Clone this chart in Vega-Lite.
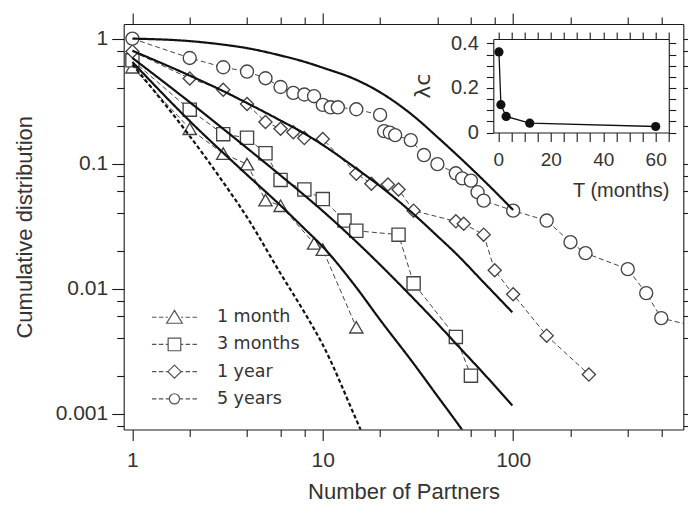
{
 "$schema": "https://vega.github.io/schema/vega-lite/v6.json",
 "width": 559.6,
 "height": 405.5,
 "autosize": {"type": "none"},
 "padding": {"left": 123.7, "top": 24, "right": 4.7, "bottom": 76.5},
 "background": "white",
 "config": {
  "view": {"stroke": null},
  "axis": {"grid": false, "domainColor": "#1a1a1a", "domainWidth": 1.1, "tickColor": "#1a1a1a", "tickWidth": 1.1, "labelColor": "#333333", "titleColor": "#333333", "labelFont": "Liberation Sans", "titleFont": "Liberation Sans", "titleFontWeight": "normal", "labelOverlap": false, "labelFlush": false, "labelBound": false}
 },
 "datasets": {
  "obs": [
   {"series": "1 month", "x": 1, "y": 0.59}, {"series": "1 month", "x": 2, "y": 0.19}, {"series": "1 month", "x": 3, "y": 0.12}, {"series": "1 month", "x": 4, "y": 0.099}, {"series": "1 month", "x": 5, "y": 0.051}, {"series": "1 month", "x": 6, "y": 0.046}, {"series": "1 month", "x": 9, "y": 0.023}, {"series": "1 month", "x": 10, "y": 0.0205}, {"series": "1 month", "x": 15, "y": 0.0049},
   {"series": "3 months", "x": 1, "y": 0.67}, {"series": "3 months", "x": 2, "y": 0.27}, {"series": "3 months", "x": 3, "y": 0.172}, {"series": "3 months", "x": 4, "y": 0.161}, {"series": "3 months", "x": 5, "y": 0.121}, {"series": "3 months", "x": 6, "y": 0.074}, {"series": "3 months", "x": 8, "y": 0.062}, {"series": "3 months", "x": 10, "y": 0.052}, {"series": "3 months", "x": 13, "y": 0.035}, {"series": "3 months", "x": 15, "y": 0.029}, {"series": "3 months", "x": 25, "y": 0.027}, {"series": "3 months", "x": 30, "y": 0.011}, {"series": "3 months", "x": 50, "y": 0.0041}, {"series": "3 months", "x": 60, "y": 0.00201},
   {"series": "1 year", "x": 1, "y": 0.79}, {"series": "1 year", "x": 2, "y": 0.48}, {"series": "1 year", "x": 3, "y": 0.39}, {"series": "1 year", "x": 4, "y": 0.3}, {"series": "1 year", "x": 5, "y": 0.215}, {"series": "1 year", "x": 6, "y": 0.19}, {"series": "1 year", "x": 7, "y": 0.178}, {"series": "1 year", "x": 8, "y": 0.16}, {"series": "1 year", "x": 10, "y": 0.157}, {"series": "1 year", "x": 15, "y": 0.083}, {"series": "1 year", "x": 18, "y": 0.069}, {"series": "1 year", "x": 22, "y": 0.068}, {"series": "1 year", "x": 25, "y": 0.062}, {"series": "1 year", "x": 30, "y": 0.042}, {"series": "1 year", "x": 50, "y": 0.0345}, {"series": "1 year", "x": 55, "y": 0.033}, {"series": "1 year", "x": 70, "y": 0.027}, {"series": "1 year", "x": 80, "y": 0.014}, {"series": "1 year", "x": 100, "y": 0.009}, {"series": "1 year", "x": 150, "y": 0.0042}, {"series": "1 year", "x": 250, "y": 0.00205},
   {"series": "5 years", "x": 1, "y": 1.0}, {"series": "5 years", "x": 2, "y": 0.7}, {"series": "5 years", "x": 3, "y": 0.59}, {"series": "5 years", "x": 4, "y": 0.545}, {"series": "5 years", "x": 5, "y": 0.482}, {"series": "5 years", "x": 6, "y": 0.41}, {"series": "5 years", "x": 7, "y": 0.368}, {"series": "5 years", "x": 8, "y": 0.357}, {"series": "5 years", "x": 9, "y": 0.346}, {"series": "5 years", "x": 10, "y": 0.295}, {"series": "5 years", "x": 11, "y": 0.282}, {"series": "5 years", "x": 12, "y": 0.282}, {"series": "5 years", "x": 15, "y": 0.272}, {"series": "5 years", "x": 20, "y": 0.245}, {"series": "5 years", "x": 21, "y": 0.182}, {"series": "5 years", "x": 22.5, "y": 0.177}, {"series": "5 years", "x": 24, "y": 0.169}, {"series": "5 years", "x": 29, "y": 0.154}, {"series": "5 years", "x": 34, "y": 0.117}, {"series": "5 years", "x": 40, "y": 0.099}, {"series": "5 years", "x": 50, "y": 0.0836}, {"series": "5 years", "x": 54, "y": 0.0762}, {"series": "5 years", "x": 60, "y": 0.073}, {"series": "5 years", "x": 65, "y": 0.059}, {"series": "5 years", "x": 70, "y": 0.0505}, {"series": "5 years", "x": 100, "y": 0.042}, {"series": "5 years", "x": 150, "y": 0.035}, {"series": "5 years", "x": 200, "y": 0.0235}, {"series": "5 years", "x": 240, "y": 0.0192}, {"series": "5 years", "x": 400, "y": 0.0143}, {"series": "5 years", "x": 500, "y": 0.0092}, {"series": "5 years", "x": 600, "y": 0.0058}, {"series": "5 years", "x": 1000, "y": 0.0048}
  ],
  "fit": [
   {"curve": "A", "x": 1, "y": 1.0}, {"curve": "A", "x": 2, "y": 0.955}, {"curve": "A", "x": 3, "y": 0.895}, {"curve": "A", "x": 4, "y": 0.839}, {"curve": "A", "x": 6, "y": 0.733}, {"curve": "A", "x": 8, "y": 0.653}, {"curve": "A", "x": 10, "y": 0.585}, {"curve": "A", "x": 15, "y": 0.468}, {"curve": "A", "x": 20, "y": 0.372}, {"curve": "A", "x": 30, "y": 0.24}, {"curve": "A", "x": 40, "y": 0.163}, {"curve": "A", "x": 60, "y": 0.092}, {"curve": "A", "x": 80, "y": 0.06}, {"curve": "A", "x": 100, "y": 0.0425},
   {"curve": "B", "x": 1, "y": 0.8}, {"curve": "B", "x": 2, "y": 0.506}, {"curve": "B", "x": 3, "y": 0.38}, {"curve": "B", "x": 4, "y": 0.305}, {"curve": "B", "x": 6, "y": 0.221}, {"curve": "B", "x": 8, "y": 0.174}, {"curve": "B", "x": 10, "y": 0.141}, {"curve": "B", "x": 15, "y": 0.0912}, {"curve": "B", "x": 20, "y": 0.066}, {"curve": "B", "x": 30, "y": 0.0394}, {"curve": "B", "x": 40, "y": 0.0263}, {"curve": "B", "x": 50, "y": 0.0191}, {"curve": "B", "x": 70, "y": 0.0112}, {"curve": "B", "x": 99, "y": 0.00646},
   {"curve": "C", "x": 1, "y": 0.7}, {"curve": "C", "x": 2, "y": 0.31}, {"curve": "C", "x": 4, "y": 0.133}, {"curve": "C", "x": 6, "y": 0.0804}, {"curve": "C", "x": 8, "y": 0.0558}, {"curve": "C", "x": 10, "y": 0.0417}, {"curve": "C", "x": 15, "y": 0.0237}, {"curve": "C", "x": 20, "y": 0.0155}, {"curve": "C", "x": 30, "y": 0.0083}, {"curve": "C", "x": 40, "y": 0.00525}, {"curve": "C", "x": 50, "y": 0.00363}, {"curve": "C", "x": 70, "y": 0.00209}, {"curve": "C", "x": 99, "y": 0.00116},
   {"curve": "D", "x": 1, "y": 0.65}, {"curve": "D", "x": 2, "y": 0.219}, {"curve": "D", "x": 4, "y": 0.0813}, {"curve": "D", "x": 6, "y": 0.0462}, {"curve": "D", "x": 8, "y": 0.0302}, {"curve": "D", "x": 10, "y": 0.0216}, {"curve": "D", "x": 15, "y": 0.0102}, {"curve": "D", "x": 20, "y": 0.00562}, {"curve": "D", "x": 30, "y": 0.00251}, {"curve": "D", "x": 40, "y": 0.00138}, {"curve": "D", "x": 50, "y": 0.00087}, {"curve": "D", "x": 60, "y": 0.00059},
   {"curve": "E", "x": 1, "y": 0.62}, {"curve": "E", "x": 2, "y": 0.166}, {"curve": "E", "x": 3, "y": 0.0708}, {"curve": "E", "x": 4, "y": 0.0372}, {"curve": "E", "x": 6, "y": 0.0132}, {"curve": "E", "x": 8, "y": 0.00646}, {"curve": "E", "x": 10, "y": 0.00355}, {"curve": "E", "x": 15, "y": 0.00089}, {"curve": "E", "x": 18, "y": 0.00047}
  ],
  "inset": [
   {"T": 0.25, "lambda": 0.362}, {"T": 1, "lambda": 0.125}, {"T": 3, "lambda": 0.072}, {"T": 12, "lambda": 0.042}, {"T": 60, "lambda": 0.027}
  ]
 },
 "layer": [
  {
   "encoding": {
    "x": {"field": "x", "type": "quantitative", "scale": {"type": "log", "domain": [0.9, 783], "nice": false},
     "axis": {"orient": "bottom", "values": [1, 2, 4, 6, 8, 10, 20, 40, 60, 80, 100, 200, 400, 600],
      "labelExpr": "abs(log(datum.value)/LN10 - round(log(datum.value)/LN10)) < 1e-6 ? format(datum.value, '~g') : ''",
      "tickSize": {"condition": {"test": "abs(log(datum.value)/LN10 - round(log(datum.value)/LN10)) < 1e-6", "value": 11}, "value": 7},
      "labelFontSize": 21, "labelPadding": 9, "title": "Number of Partners", "titleFontSize": 22, "titlePadding": 11}},
    "y": {"field": "y", "type": "quantitative", "scale": {"type": "log", "domain": [0.000745, 1.309], "nice": false},
     "axis": {"orient": "left", "values": [1, 0.8, 0.6, 0.4, 0.2, 0.1, 0.08, 0.06, 0.04, 0.02, 0.01, 0.008, 0.006, 0.004, 0.002, 0.001, 0.0008],
      "labelExpr": "abs(log(datum.value)/LN10 - round(log(datum.value)/LN10)) < 1e-6 ? format(datum.value, '~g') : ''",
      "tickSize": {"condition": {"test": "abs(log(datum.value)/LN10 - round(log(datum.value)/LN10)) < 1e-6", "value": 12}, "value": 7},
      "labelFontSize": 21, "labelPadding": 4, "title": "Cumulative distribution", "titleFontSize": 22, "titlePadding": 19}}
   },
   "layer": [
    {
     "data": {"name": "obs"},
     "mark": {"type": "line", "clip": true, "color": "#444444", "strokeWidth": 1, "strokeDash": [5, 3]},
     "encoding": {"detail": {"field": "series"}}
    },
    {
     "data": {"name": "obs"},
     "mark": {"type": "point", "clip": true, "filled": true, "fill": "white", "stroke": "#444444", "strokeWidth": 1.35, "opacity": 1},
     "encoding": {
      "shape": {"field": "series", "type": "nominal", "scale": {"domain": ["1 month", "3 months", "1 year", "5 years"], "range": ["triangle-up", "square", "diamond", "circle"]}, "legend": null},
      "size": {"field": "series", "type": "nominal", "scale": {"domain": ["1 month", "3 months", "1 year", "5 years"], "range": [175, 170, 190, 140]}, "legend": null}
     }
    },
    {
     "data": {"name": "fit"},
     "mark": {"type": "line", "clip": true, "color": "#111111", "strokeWidth": 2.2, "interpolate": "monotone"},
     "encoding": {
      "detail": {"field": "curve"},
      "strokeDash": {"field": "curve", "type": "nominal", "scale": {"domain": ["A", "B", "C", "D", "E"], "range": [[1, 0], [1, 0], [1, 0], [1, 0], [4, 2.5]]}, "legend": null}
     }
    },
    {
     "data": {"name": "obs"},
     "transform": [{"filter": {"field": "x", "lt": 0}}],
     "mark": {"type": "point", "filled": false, "color": "#555555"},
     "encoding": {
      "shape": {"field": "series", "type": "nominal",
       "scale": {"domain": ["1 month", "3 months", "1 year", "5 years"],
        "range": [
         "M-3.75,0H-3M-2.6,0H-1.85M-1.45,0H-1.1M1.1,0H1.45M1.85,0H2.6M3,0H3.75M0,-1.15L1.3,1L-1.3,1Z",
         "M-3.75,0H-3M-2.6,0H-1.85M-1.45,0H-1.05M1.05,0H1.45M1.85,0H2.6M3,0H3.75M-1.05,-1.05H1.05V1.05H-1.05Z",
         "M-3.75,0H-3M-2.6,0H-1.85M-1.45,0H-1.1M1.1,0H1.45M1.85,0H2.6M3,0H3.75M0,-1.1L1.1,0L0,1.1L-1.1,0Z",
         "M-3.75,0H-3M-2.6,0H-1.85M-1.45,0H-0.85M0.85,0H1.45M1.85,0H2.6M3,0H3.75M0.85,0A0.85,0.85 0 1,1 -0.85,0A0.85,0.85 0 1,1 0.85,0Z"
        ]},
       "legend": {"orient": "none", "legendX": 42, "legendY": 284.5, "title": null, "padding": 0, "labelFont": "DejaVu Sans", "labelFontSize": 17.5, "labelColor": "#333333", "symbolSize": 144, "symbolStrokeColor": "#555555", "symbolStrokeWidth": 1.2, "symbolFillColor": "transparent", "symbolOpacity": 1, "labelOffset": 33.7, "rowPadding": 8.2, "labelLimit": 300}}
     }
    }
   ],
   "resolve": {"scale": {"shape": "independent"}}
  },
  {
   "data": {"name": "obs"},
   "mark": {"type": "point", "opacity": 0},
   "encoding": {
    "x": {"field": "x", "type": "quantitative", "scale": {"type": "log", "domain": [0.9, 783], "nice": false},
     "axis": {"orient": "top", "values": [1, 2, 4, 6, 8, 10, 20, 40, 60, 80, 100, 200, 400, 600], "labels": false, "title": null,
      "tickSize": {"condition": {"test": "abs(log(datum.value)/LN10 - round(log(datum.value)/LN10)) < 1e-6", "value": 11}, "value": 7}}},
    "y": {"field": "y", "type": "quantitative", "scale": {"type": "log", "domain": [0.000745, 1.309], "nice": false},
     "axis": {"orient": "right", "values": [1, 0.8, 0.6, 0.4, 0.2, 0.1, 0.08, 0.06, 0.04, 0.02, 0.01, 0.008, 0.006, 0.004, 0.002, 0.001, 0.0008], "labels": false, "title": null,
      "tickSize": {"condition": {"test": "abs(log(datum.value)/LN10 - round(log(datum.value)/LN10)) < 1e-6", "value": 11}, "value": 7}}}
   }
  },
  {
   "data": {"name": "inset"},
   "encoding": {
    "x": {"field": "T", "type": "quantitative", "scale": {"domain": [-1.9, 65], "range": [369.6, 545.1], "nice": false, "zero": false},
     "axis": {"orient": "bottom", "offset": -297, "values": [0, 5, 10, 15, 20, 25, 30, 35, 40, 45, 50, 55, 60, 65],
      "labelExpr": "datum.value % 20 === 0 ? datum.label : ''", "tickSize": 9, "labelFontSize": 19, "labelPadding": 9,
      "title": "T (months)", "titleFontSize": 20, "titleAnchor": "end", "titlePadding": 11}},
    "y": {"field": "lambda", "type": "quantitative", "scale": {"domain": [0, 0.42], "range": [108.5, 15], "nice": false, "zero": false},
     "axis": {"orient": "left", "offset": -369.6, "values": [0, 0.05, 0.1, 0.15, 0.2, 0.25, 0.3, 0.35, 0.4],
      "labelExpr": "abs(datum.value*5 - round(datum.value*5)) < 1e-6 ? format(datum.value, '~g') : ''", "tickSize": 7, "labelFontSize": 20, "labelPadding": 8,
      "title": "λc", "titleFontSize": 22, "titleFont": "DejaVu Sans", "titlePadding": 16}}
   },
   "layer": [
    {"mark": {"type": "line", "color": "#111111", "strokeWidth": 1.3}},
    {"mark": {"type": "point", "filled": true, "color": "#111111", "size": 85, "opacity": 1}}
   ]
  },
  {
   "data": {"name": "inset"},
   "mark": {"type": "point", "opacity": 0},
   "encoding": {
    "x": {"field": "T", "type": "quantitative", "scale": {"domain": [-1.9, 65], "range": [369.6, 545.1], "nice": false, "zero": false},
     "axis": {"orient": "top", "offset": -15, "values": [0, 5, 10, 15, 20, 25, 30, 35, 40, 45, 50, 55, 60, 65], "labels": false, "title": null, "tickSize": 7}},
    "y": {"field": "lambda", "type": "quantitative", "scale": {"domain": [0, 0.42], "range": [108.5, 15], "nice": false, "zero": false},
     "axis": {"orient": "right", "offset": -14.5, "values": [0, 0.05, 0.1, 0.15, 0.2, 0.25, 0.3, 0.35, 0.4], "labels": false, "title": null, "tickSize": 7}}
   }
  }
 ],
 "resolve": {"scale": {"x": "independent", "y": "independent"}}
}
